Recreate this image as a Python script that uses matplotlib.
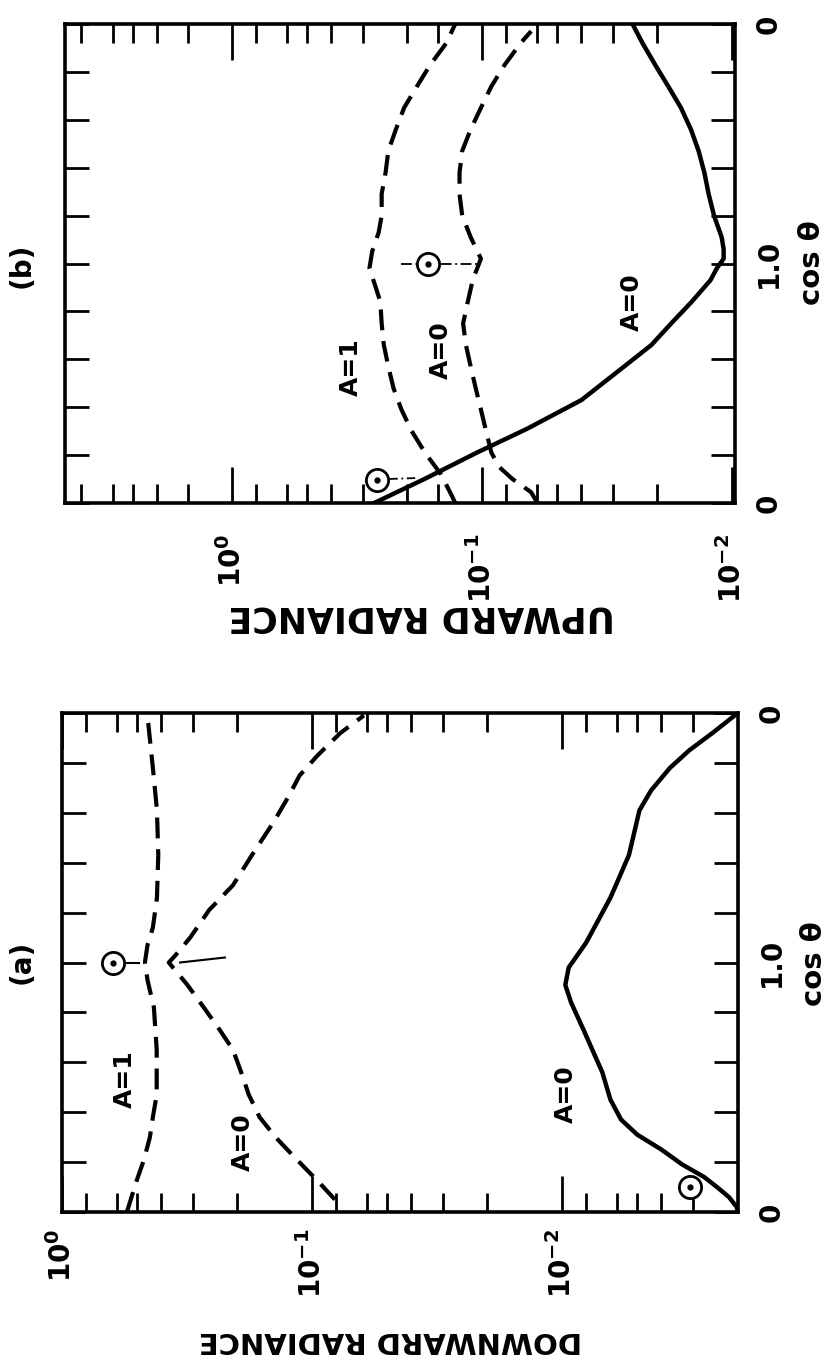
import matplotlib
matplotlib.use('Agg')
import matplotlib.pyplot as plt
from matplotlib.ticker import FixedLocator, NullFormatter

plt.rcParams['font.family'] = 'DejaVu Sans'
plt.rcParams['font.weight'] = 'bold'
plt.rcParams['mathtext.fontset'] = 'dejavusans'
plt.rcParams['mathtext.default'] = 'bf'

W, H = 829, 1361

# position along the cos(theta) axis: 0..1 is cos(theta) on one side of the
# sun's vertical plane, 1..2 is the other side (pos = 2 - cos(theta))

# panel (a): downward radiance
a_pos_A1 = [0.0, 0.12, 0.21, 0.30, 0.38, 0.47, 0.65, 0.82, 0.93, 1.0, 1.07, 1.14, 1.26, 1.43, 1.61, 1.78, 1.96, 2.0]
a_val_A1 = [0.55, 0.505, 0.47, 0.445, 0.433, 0.418, 0.418, 0.429, 0.455, 0.466, 0.455, 0.433, 0.417, 0.412, 0.417, 0.433, 0.452, 0.46]

a_pos_A0 = [0.05, 0.12, 0.21, 0.30, 0.38, 0.47, 0.56, 0.65, 0.73, 0.82, 0.91, 1.0,
            1.03, 1.10, 1.21, 1.31, 1.43, 1.56, 1.66, 1.75, 1.83, 1.92, 1.99]
a_val_A0 = [0.081, 0.094, 0.115, 0.140, 0.162, 0.179, 0.192, 0.207, 0.234, 0.271, 0.315, 0.374,
            0.351, 0.307, 0.258, 0.207, 0.174, 0.143, 0.125, 0.112, 0.095, 0.077, 0.062]

a_pos_sfc = [0.0, 0.02, 0.06, 0.10, 0.14, 0.19, 0.25, 0.31, 0.37, 0.45, 0.56, 0.73, 0.84, 0.91, 0.98,
             1.08, 1.26, 1.43, 1.61, 1.69, 1.78, 1.85, 1.92, 2.0]
a_val_sfc = [0.00198, 0.0020, 0.00215, 0.0024, 0.0027, 0.0033, 0.0040, 0.0050, 0.0058, 0.0064, 0.0069, 0.0082, 0.0092, 0.0097, 0.0094,
             0.0080, 0.0064, 0.0054, 0.0049, 0.0044, 0.0037, 0.0031, 0.0025, 0.00198]

# panel (b): upward radiance
b_pos_A1 = [0.0, 0.03, 0.12, 0.21, 0.30, 0.39, 0.48, 0.57, 0.66, 0.75, 0.84, 0.91, 0.98, 1.05, 1.13,
            1.20, 1.29, 1.38, 1.47, 1.56, 1.65, 1.74, 1.83, 1.92, 2.0]
b_val_A1 = [0.128, 0.132, 0.146, 0.169, 0.191, 0.210, 0.226, 0.237, 0.247, 0.252, 0.255, 0.268, 0.282, 0.275, 0.259,
            0.252, 0.252, 0.243, 0.237, 0.221, 0.205, 0.182, 0.161, 0.139, 0.128]

b_pos_A0 = [0.0, 0.045, 0.10, 0.15, 0.21, 0.30, 0.39, 0.48, 0.57, 0.66, 0.75, 0.84, 0.93, 1.02,
            1.11, 1.20, 1.29, 1.38, 1.47, 1.56, 1.65, 1.74, 1.83, 1.92, 1.97]
b_val_A0 = [0.060, 0.0636, 0.0755, 0.0853, 0.0917, 0.0963, 0.101, 0.106, 0.111, 0.116, 0.119, 0.114, 0.109, 0.101,
            0.111, 0.120, 0.123, 0.123, 0.120, 0.111, 0.101, 0.0917, 0.0811, 0.0701, 0.0636]

b_pos_sfc = [0.0, 0.10, 0.21, 0.31, 0.43, 0.57, 0.66, 0.75, 0.84, 0.93, 0.98, 1.02, 1.06, 1.11, 1.20,
             1.29, 1.38, 1.47, 1.56, 1.65, 1.74, 1.83, 1.92, 2.0]
b_val_sfc = [0.27, 0.17, 0.105, 0.066, 0.040, 0.027, 0.021, 0.0175, 0.0145, 0.0122, 0.0115, 0.0108, 0.0108, 0.0110, 0.0118,
             0.0124, 0.0129, 0.0136, 0.0146, 0.0160, 0.0180, 0.0203, 0.0228, 0.025]

# sun symbols (value, pos)
a_suns = [(0.625, 1.0), (0.00308, 0.10)]
b_suns = [(0.164, 1.0), (0.263, 0.096)]

major_vals = [1.0, 0.1, 0.01]
major_lbls = [r'$10^{0}$', r'$10^{-1}$', r'$10^{-2}$']
a_minor = [0.8, 0.6, 0.5, 0.4, 0.3, 0.2, 0.08, 0.06, 0.05, 0.04, 0.03, 0.02, 0.008, 0.006, 0.005, 0.004, 0.003]
b_minor = [4, 3, 2.5, 2, 1.5, 0.8, 0.6, 0.5, 0.4, 0.3, 0.2, 0.15, 0.08, 0.06, 0.05, 0.04, 0.03, 0.02]
pos_ticks = [0.0, 1.0, 2.0]
pos_lbls = ['0', '1.0', '0']
pos_minor = [0.2, 0.4, 0.6, 0.8, 1.2, 1.4, 1.6, 1.8]


def fx(x):
    return x / W


def fy(y):
    return 1 - y / H


def panel(x0, y0, x1, y1, xlim, minor, pad):
    ax = fig.add_axes([fx(x0), fy(y1), (x1 - x0) / W, (y1 - y0) / H])
    ax.set_xscale('log')
    ax.set_xlim(*xlim)
    ax.set_ylim(0, 2)
    ax.set_xticks(major_vals, labels=major_lbls)
    ax.xaxis.set_minor_locator(FixedLocator(minor))
    ax.xaxis.set_minor_formatter(NullFormatter())
    ax.set_yticks(pos_ticks, labels=pos_lbls)
    ax.set_yticks(pos_minor, minor=True)
    ax.tick_params(axis='x', which='major', direction='in', length=26, width=2,
                   top=True, bottom=True, labelrotation=90, labelsize=20, pad=pad)
    ax.tick_params(axis='x', which='minor', direction='in', length=14, width=2,
                   top=True, bottom=True)
    ax.tick_params(axis='y', which='both', direction='in', length=17, width=2,
                   left=True, right=True, labelleft=False, labelright=True,
                   labelrotation=90, labelsize=20, pad=14)
    for lbl in ax.get_yticklabels():
        lbl.set_va('center')
    for s in ax.spines.values():
        s.set_linewidth(2.6)
    return ax


def sun(ax, v, p):
    ax.plot(v, p, 'o', ms=16, mfc='white', mec='black', mew=2, zorder=5)
    ax.plot(v, p, 'o', ms=3.5, color='black', zorder=6)


dash = (0, (5, 2.6))
fig = plt.figure(figsize=(W / 100, H / 100), dpi=100)

# (b) upward radiance
axb = panel(65, 24, 735, 503, (10 ** 0.668, 10 ** -2.012), b_minor, 22)
axb.plot(b_val_A1, b_pos_A1, color='black', lw=3, ls=dash)
axb.plot(b_val_A0, b_pos_A0, color='black', lw=3, ls=dash)
axb.plot(b_val_sfc, b_pos_sfc, color='black', lw=3.2)
axb.plot([0.21, 0.104], [1.0, 1.0], color='black', lw=1.3, ls=(0, (6, 2, 1, 2)))
axb.plot([0.24, 0.185], [0.10, 0.104], color='black', lw=1.3, ls=(0, (6, 2, 1, 2)))
for v, p in b_suns:
    sun(axb, v, p)

# (a) downward radiance
axa = panel(62, 713, 738, 1212, (1.0, 10 ** -2.704), a_minor, 12)
axa.plot(a_val_A1, a_pos_A1, color='black', lw=3, ls=dash)
axa.plot(a_val_A0, a_pos_A0, color='black', lw=3, ls=dash)
axa.plot(a_val_sfc, a_pos_sfc, color='black', lw=3.2)
axa.plot([0.565, 0.49], [1.0, 1.0], color='black', lw=1.5)
axa.plot([0.337, 0.223], [1.0, 1.02], color='black', lw=1.5)
for v, p in a_suns:
    sun(axa, v, p)

txt = dict(rotation=90, ha='center', va='center', fontsize=18, fontweight='bold')
fig.text(fx(22), fy(265), '(b)', **dict(txt, fontsize=20))
fig.text(fx(22), fy(962), '(a)', **dict(txt, fontsize=20))
fig.text(fx(812), fy(263), 'cos θ', **dict(txt, fontsize=21))
fig.text(fx(814), fy(964), 'cos θ', **dict(txt, fontsize=21))
fig.text(fx(351), fy(367), 'A=1', **txt)
fig.text(fx(441), fy(350), 'A=0', **txt)
fig.text(fx(632), fy(302), 'A=0', **txt)
fig.text(fx(125), fy(1079), 'A=1', **txt)
fig.text(fx(243), fy(1142), 'A=0', **txt)
fig.text(fx(566), fy(1094), 'A=0', **txt)

ylab = dict(rotation=180, ha='center', va='center', fontweight='bold')
fig.text(fx(422), fy(616), 'UPWARD RADIANCE', fontsize=25, **ylab)
fig.text(fx(390), fy(1340), 'DOWNWARD RADIANCE', fontsize=21, **ylab)

fig.savefig('out.png', dpi=100)
